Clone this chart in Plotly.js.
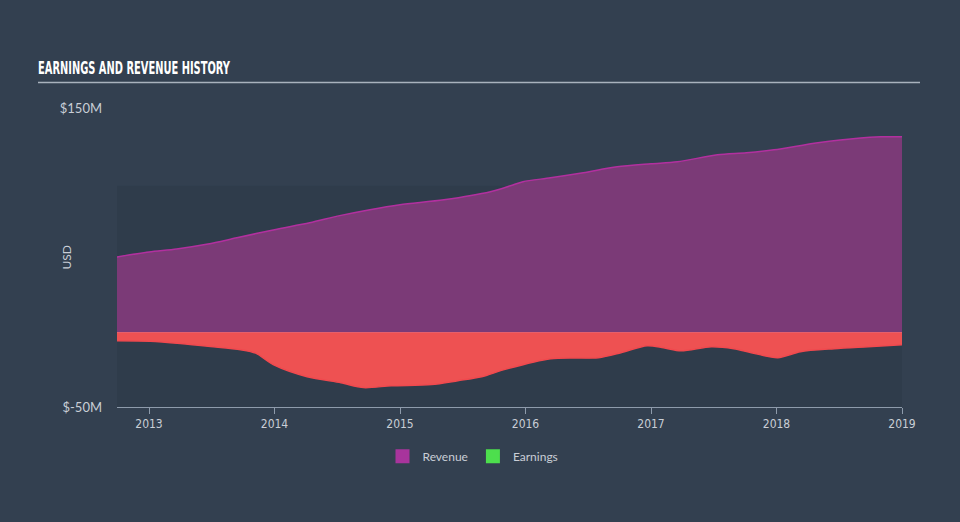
<!DOCTYPE html>
<html>
<head>
<meta charset="utf-8">
<script src="https://cdn.plot.ly/plotly-3.0.1.min.js"></script>
<style>
html,body{margin:0;padding:0;background:#334050;}
#chart{width:960px;height:522px;}
.gtitle{font-stretch:condensed;}
.xtick text{font-stretch:condensed;}
</style>
</head>
<body>
<div id="chart"></div>
<script>
// Time in decimal years
const revenueX = [2012.745, 2013.0, 2013.22, 2013.47, 2013.70, 2014.0, 2014.28, 2014.52, 2014.76, 2015.0, 2015.35, 2015.72, 2015.88, 2015.98, 2016.2, 2016.46, 2016.73, 2017.0, 2017.21, 2017.53, 2017.76, 2017.98, 2018.33, 2018.67, 2018.83, 2019.0];
const revenueM = [50.4, 53.7, 55.7, 59.0, 63.2, 68.6, 73.2, 78.0, 82.0, 85.3, 88.6, 94.0, 98.0, 100.7, 103.3, 106.7, 110.7, 112.7, 114.0, 118.7, 120.0, 122.0, 126.8, 130.0, 130.7, 130.8];

const earningsX = [2012.745, 2013.01, 2013.25, 2013.49, 2013.73, 2013.85, 2013.99, 2014.26, 2014.53, 2014.71, 2014.93, 2015.25, 2015.46, 2015.65, 2015.83, 2016.2, 2016.58, 2016.76, 2016.97, 2017.10, 2017.24, 2017.48, 2017.66, 2017.80, 2018.01, 2018.19, 2018.46, 2018.73, 2019.0];
const earningsM = [-5.7, -6.0, -7.5, -9.5, -11.7, -14.0, -21.7, -29.8, -33.8, -37.0, -35.8, -35.0, -32.4, -29.8, -25.0, -17.7, -17.0, -13.7, -9.0, -10.4, -12.4, -9.7, -11.0, -13.7, -17.0, -13.0, -11.0, -9.7, -8.4];

const yearTicks = [2013, 2014, 2015, 2016, 2017, 2018, 2019];
const yTickVals = [-50, 150];
const yTickText = ['$-50M', '$150M'];
const legendNames = ['Revenue', 'Earnings'];
const legendColors = ['#a8349c', '#4ddf4d'];

const traces = [
  {
    x: revenueX, y: revenueM, type: 'scatter', mode: 'lines',
    line: {color: '#b2309f', width: 1.5, shape: 'spline', smoothing: 0.8},
    fill: 'tozeroy', fillcolor: '#7b3a77', showlegend: false, hoverinfo: 'skip'
  },
  {
    x: earningsX, y: earningsM, type: 'scatter', mode: 'lines',
    line: {color: '#f0494e', width: 1.5, shape: 'spline', smoothing: 0.8},
    fill: 'tozeroy', fillcolor: '#ee5152', showlegend: false, hoverinfo: 'skip'
  }
];
legendNames.forEach((n, i) => {
  traces.push({
    x: [null], y: [null], type: 'scatter', mode: 'markers', name: n,
    marker: {symbol: 'square', size: 14, color: legendColors[i]}
  });
});

const layout = {
  width: 960, height: 522,
  paper_bgcolor: '#334050', plot_bgcolor: 'rgba(0,0,0,0)',
  margin: {l: 117, r: 58, t: 108, b: 115},
  font: {family: 'Lato, "Open Sans", sans-serif', color: '#c9ced6'},
  showlegend: true,
  legend: {orientation: 'h', x: 0.4535, xanchor: 'center', y: -0.165, yanchor: 'middle',
    font: {size: 12, color: '#c9ced6', family: 'Lato, sans-serif'}, bgcolor: 'rgba(0,0,0,0)', itemwidth: 30},
  xaxis: {
    range: [2012.745, 2019.0], tickvals: yearTicks, ticktext: yearTicks.map(String),
    showgrid: false, zeroline: false, showline: true, linecolor: '#8e9bab', linewidth: 1,
    ticks: 'outside', ticklen: 6, tickcolor: '#8e9bab',
    tickfont: {family: '"DejaVu Sans", sans-serif', size: 12, color: '#c9ced6'}
  },
  yaxis: {
    range: [-50, 150], tickvals: yTickVals, ticktext: yTickText,
    showgrid: false, zeroline: true, zerolinecolor: '#e7a6cc', zerolinewidth: 1,
    showline: false, ticks: '', ticklabelstandoff: 14,
    tickfont: {family: 'Lato, "Open Sans", sans-serif', size: 13, color: '#c9ced6'}
  },
  title: {
    text: '<b>EARNINGS AND REVENUE HISTORY</b>', xref: 'container', yref: 'container',
    x: 38 / 960, xanchor: 'left', y: 1 - 68 / 522, yanchor: 'middle',
    font: {family: '"DejaVu Sans", sans-serif', size: 17, color: '#ffffff'}
  },
  annotations: [
    {text: 'USD', xref: 'paper', yref: 'paper', x: (66 - 117) / 785, y: 0.5,
     xanchor: 'center', yanchor: 'middle', textangle: -90, showarrow: false,
     font: {size: 12, color: '#c9ced6', family: 'Lato, sans-serif'}}
  ],
  shapes: [
    {type: 'rect', xref: 'x', yref: 'y', x0: 2012.745, x1: 2019.0, y0: -50, y1: 98,
     fillcolor: '#2f3c4b', line: {width: 0}, layer: 'below'},
    {type: 'line', xref: 'paper', yref: 'paper', x0: (38 - 117) / 785, x1: (920 - 117) / 785, y0: 1.085, y1: 1.085,
     line: {color: '#a9b2bd', width: 1.5}}
  ]
};

Plotly.newPlot('chart', traces, layout, {displayModeBar: false, staticPlot: true}).then(gd => {
  const t = gd.querySelector('.gtitle');
  if (t) {
    t.setAttribute('textLength', '192');
    t.setAttribute('lengthAdjust', 'spacingAndGlyphs');
  }
});
</script>
</body>
</html>
